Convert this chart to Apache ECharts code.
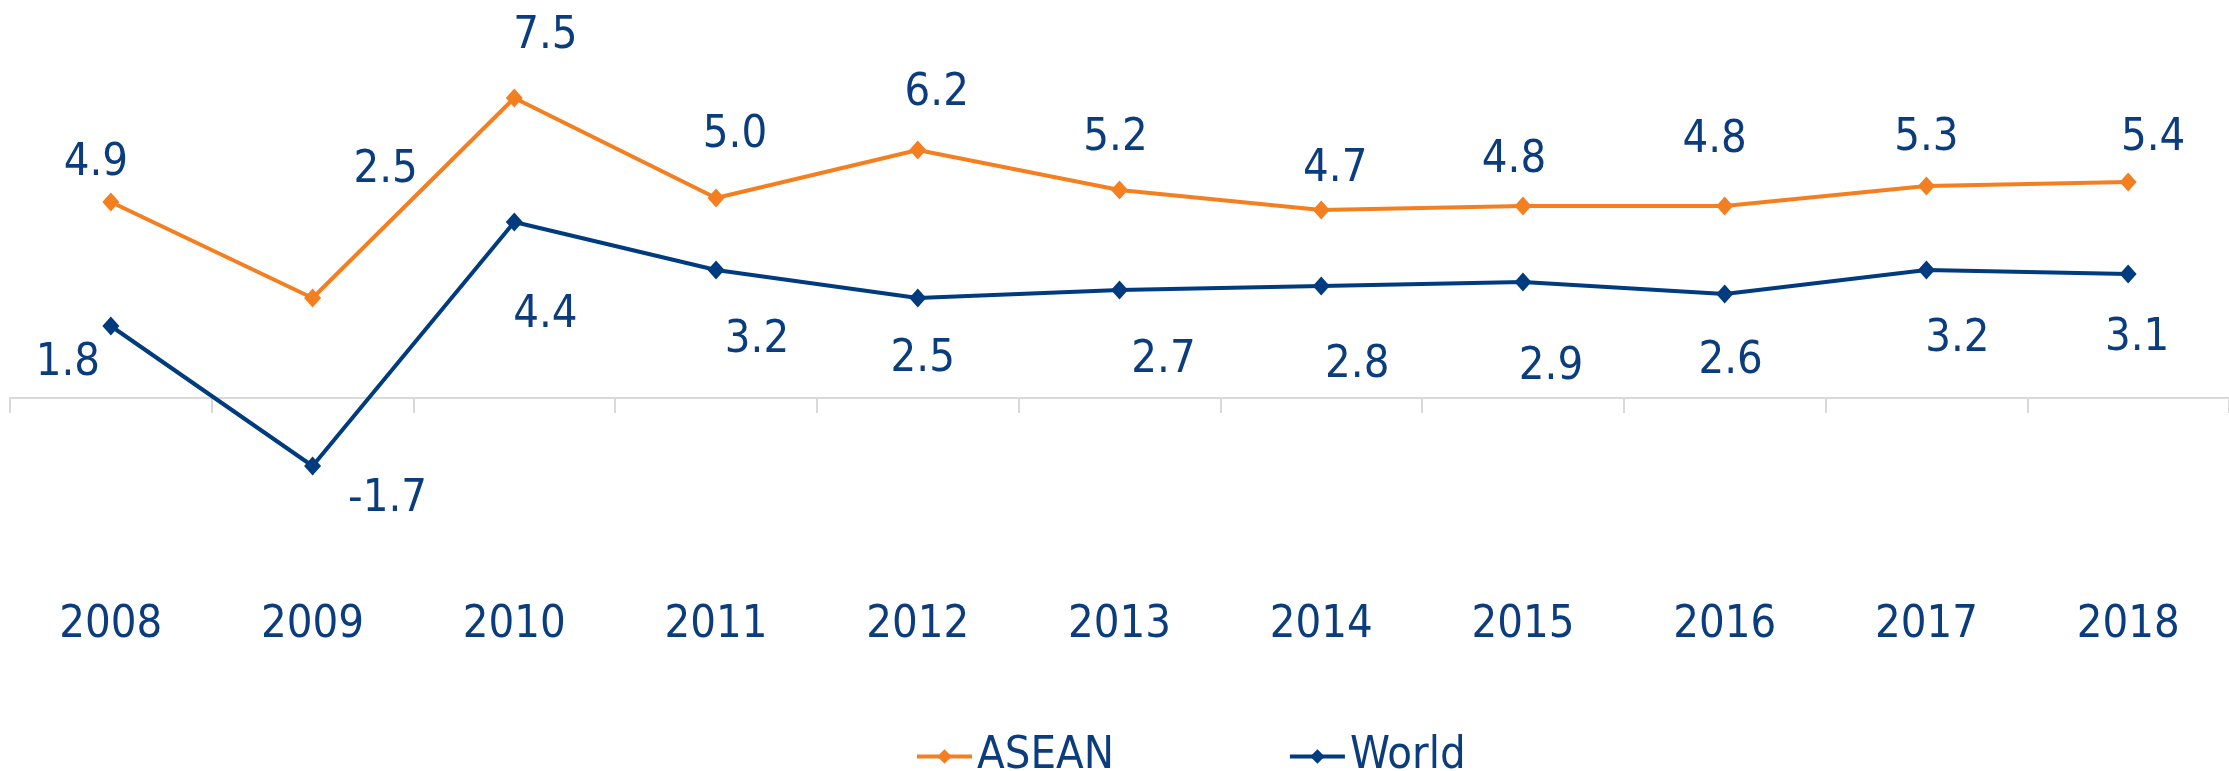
<!DOCTYPE html>
<html>
<head>
<meta charset="utf-8">
<script src="https://cdn.jsdelivr.net/npm/echarts@6/dist/echarts.min.js"></script>
<style>
  html, body { margin: 0; padding: 0; background: #ffffff; }
  #main { width: 2229px; height: 771px; }
</style>
</head>
<body>
<div id="main"></div>
<script>
var myChart = echarts.init(document.getElementById('main'));

// categories and values
var years = ['2008', '2009', '2010', '2011', '2012', '2013', '2014', '2015', '2016', '2017', '2018'];
var asean = [4.9, 2.5, 7.5, 5.0, 6.2, 5.2, 4.7, 4.8, 4.8, 5.3, 5.4];
var world = [1.8, -1.7, 4.4, 3.2, 2.5, 2.7, 2.8, 2.9, 2.6, 3.2, 3.1];

// where each value label sits, relative to its point (px)
var aseanLabelShift = [[-15, -39], [73, -128], [31, -62], [19, -63], [19, -57], [-4, -52],
    [14, -41], [-9, -46], [-10, -66], [0, -48], [25, -44]];
var worldLabelShift = [[-43, 37], [75, 33], [31, 93], [41, 70], [5, 61], [44, 70],
    [36, 79], [28, 85], [6, 67], [31, 69], [9, 64]];

var textColor = '#0b3d7e';
var font = '"DejaVu Sans Condensed", "DejaVu Sans", sans-serif';

function withLabels(values, shifts) {
    return values.map(function (v, i) {
        return { value: v, label: { offset: shifts[i] } };
    });
}

var option = {
    backgroundColor: '#ffffff',
    textStyle: { fontFamily: font },
    legend: {
        data: ['ASEAN', 'World'],
        left: 910,
        top: 729,
        itemWidth: 55,
        itemHeight: 18,
        itemGap: 174,
        lineStyle: { width: 4 },
        textStyle: {
            fontSize: 45,
            color: textColor,
            fontFamily: font
        }
    },
    grid: {
        left: 10,
        top: 38,
        width: 2237,
        height: 480
    },
    xAxis: {
        type: 'category',
        data: years,
        boundaryGap: true,
        axisLine: { lineStyle: { color: '#d9d9d9', width: 2 } },
        axisTick: { show: true, length: 15, lineStyle: { color: '#d9d9d9', width: 2 } },
        axisLabel: {
            margin: 85,
            fontSize: 45,
            color: textColor,
            fontFamily: font
        }
    },
    yAxis: {
        type: 'value',
        min: -3,
        max: 9,
        interval: 3,
        show: false,
        splitLine: { show: false }
    },
    series: [{
        name: 'ASEAN',
        type: 'line',
        data: withLabels(asean, aseanLabelShift),
        symbol: 'diamond',
        symbolSize: [17, 19],
        lineStyle: { color: '#f47f20', width: 4 },
        itemStyle: { color: '#f47f20' },
        label: {
            show: true,
            position: 'inside',
            fontSize: 45,
            color: textColor,
            fontFamily: font,
            formatter: function (p) { return p.value.toFixed(1); }
        }
    }, {
        name: 'World',
        type: 'line',
        data: withLabels(world, worldLabelShift),
        symbol: 'diamond',
        symbolSize: [17, 19],
        lineStyle: { color: '#003b7f', width: 4 },
        itemStyle: { color: '#003b7f' },
        label: {
            show: true,
            position: 'inside',
            fontSize: 45,
            color: textColor,
            fontFamily: font,
            formatter: function (p) { return p.value.toFixed(1); }
        }
    }]
};
myChart.setOption(option);
</script>
</body>
</html>
